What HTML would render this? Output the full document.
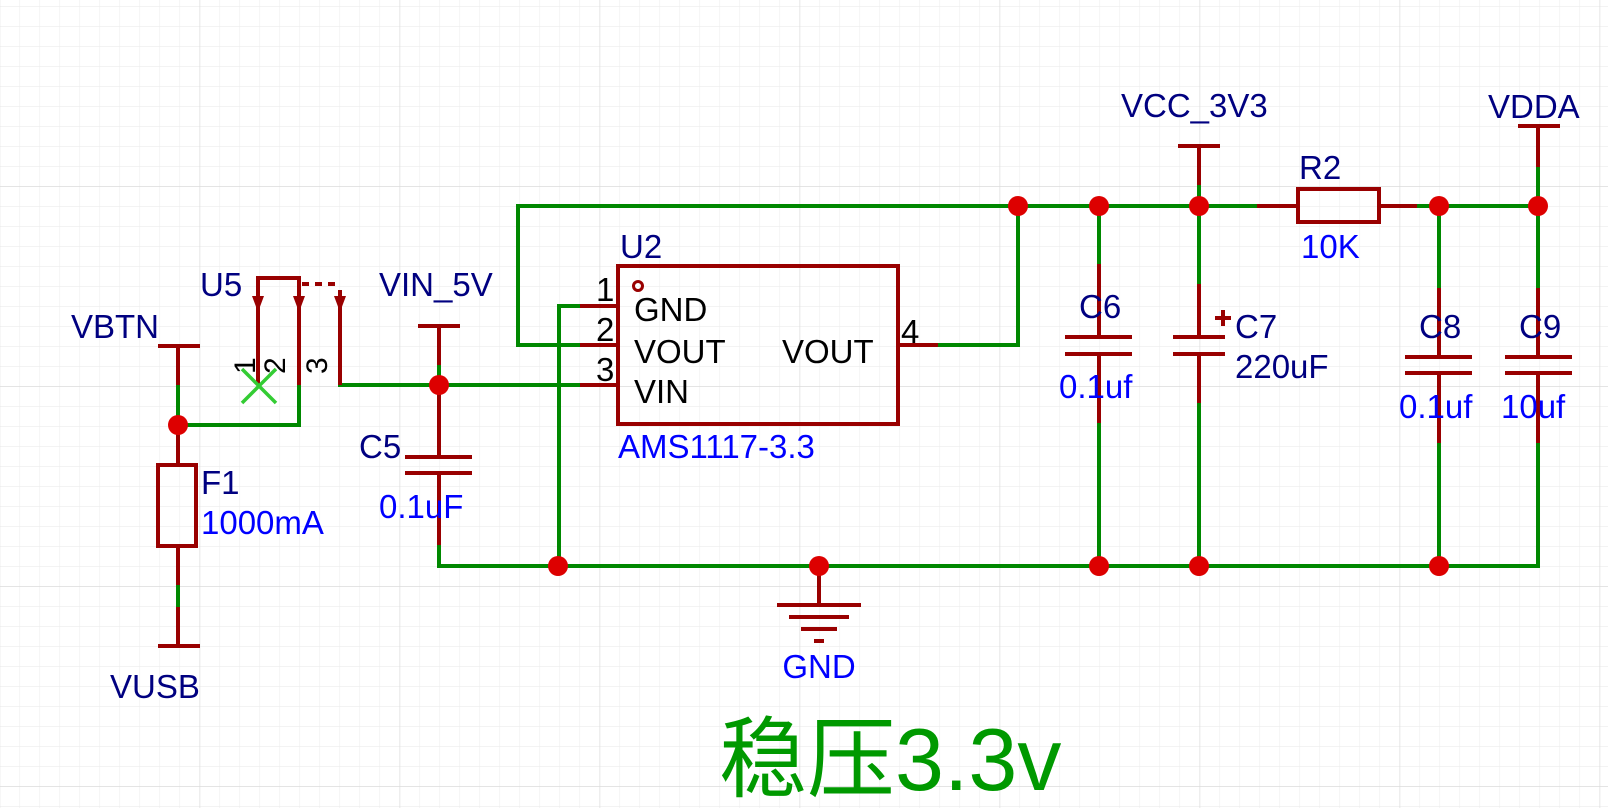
<!DOCTYPE html>
<html><head><meta charset="utf-8"><style>
html,body{margin:0;padding:0;background:#fff;}
svg{display:block;}
text{font-family:"Liberation Sans",sans-serif;}
</style></head><body>
<svg width="1608" height="808" viewBox="0 0 1608 808" xmlns="http://www.w3.org/2000/svg">
<defs>
<pattern id="g" width="20" height="20" patternUnits="userSpaceOnUse" x="-0.5" y="6">
<path d="M0 0H20M0 0V20" stroke="#ececec" stroke-width="1.2" fill="none"/>
</pattern>
<pattern id="G" width="200" height="200" patternUnits="userSpaceOnUse" x="-0.5" y="186">
<path d="M0 0H200M0 0V200" stroke="#dcdcdc" stroke-width="1.4" fill="none"/>
</pattern>
</defs>
<rect width="1608" height="808" fill="#fff"/>
<rect width="1608" height="808" fill="url(#g)"/>
<rect width="1608" height="808" fill="url(#G)"/>

<g stroke="#008800" stroke-width="4" fill="none" stroke-linecap="square">
<polyline points="580,345 518,345 518,206 1257,206"/>
<line x1="1417" y1="206" x2="1538" y2="206"/>
<polyline points="938,345 1018,345 1018,206"/>
<polyline points="439,545 439,566 1538,566 1538,443"/>
<polyline points="580,306 559,306 559,566"/>
<line x1="340" y1="385" x2="580" y2="385"/>
<polyline points="299,385 299,425 178,425 178,385"/>
<line x1="178" y1="585" x2="178" y2="607"/>
<line x1="439" y1="365" x2="439" y2="385"/>
<line x1="1099" y1="206" x2="1099" y2="264"/>
<line x1="1099" y1="423" x2="1099" y2="566"/>
<line x1="1199" y1="185" x2="1199" y2="284"/>
<line x1="1199" y1="403" x2="1199" y2="566"/>
<line x1="1439" y1="206" x2="1439" y2="288"/>
<line x1="1439" y1="443" x2="1439" y2="566"/>
<line x1="1538" y1="167" x2="1538" y2="288"/>
</g>

<g stroke="#990000" stroke-width="4" fill="none">
<line x1="158" y1="346" x2="200" y2="346"/>
<line x1="178" y1="346" x2="178" y2="385"/>
<line x1="178" y1="425" x2="178" y2="465"/>
<rect x="158" y="465" width="38" height="81"/>
<line x1="178" y1="546" x2="178" y2="585"/>
<line x1="178" y1="607" x2="178" y2="646"/>
<line x1="158" y1="646" x2="200" y2="646"/>
<polyline points="258,385 258,278 299,278 299,385"/>
<line x1="340" y1="290" x2="340" y2="385"/>
<line x1="302" y1="284" x2="340" y2="284" stroke-dasharray="7,6"/>
<line x1="418" y1="326" x2="460" y2="326"/>
<line x1="439" y1="326" x2="439" y2="365"/>
<line x1="439" y1="385" x2="439" y2="457"/>
<line x1="405" y1="457" x2="472" y2="457"/>
<line x1="405" y1="473" x2="472" y2="473"/>
<line x1="439" y1="473" x2="439" y2="545"/>
<rect x="618" y="266" width="280" height="158"/>
<line x1="580" y1="306" x2="618" y2="306"/>
<line x1="580" y1="345" x2="618" y2="345"/>
<line x1="580" y1="385" x2="618" y2="385"/>
<line x1="898" y1="345" x2="938" y2="345"/>
<circle cx="638" cy="286" r="4.5" stroke-width="3"/>
<line x1="1099" y1="264" x2="1099" y2="337"/>
<line x1="1065" y1="337" x2="1132" y2="337"/>
<line x1="1065" y1="354" x2="1132" y2="354"/>
<line x1="1099" y1="354" x2="1099" y2="423"/>
<line x1="1178" y1="146" x2="1220" y2="146"/>
<line x1="1199" y1="146" x2="1199" y2="185"/>
<line x1="1199" y1="284" x2="1199" y2="337"/>
<line x1="1173" y1="337" x2="1225" y2="337"/>
<line x1="1173" y1="354" x2="1225" y2="354"/>
<line x1="1199" y1="354" x2="1199" y2="403"/>
<line x1="1215" y1="318" x2="1231" y2="318"/>
<line x1="1223" y1="310" x2="1223" y2="326"/>
<line x1="1257" y1="206" x2="1298" y2="206"/>
<rect x="1298" y="189" width="81" height="33"/>
<line x1="1379" y1="206" x2="1417" y2="206"/>
<line x1="1439" y1="288" x2="1439" y2="357"/>
<line x1="1405" y1="357" x2="1472" y2="357"/>
<line x1="1405" y1="373" x2="1472" y2="373"/>
<line x1="1439" y1="373" x2="1439" y2="443"/>
<line x1="1518" y1="126" x2="1560" y2="126"/>
<line x1="1538" y1="126" x2="1538" y2="167"/>
<line x1="1538" y1="288" x2="1538" y2="357"/>
<line x1="1505" y1="357" x2="1572" y2="357"/>
<line x1="1505" y1="373" x2="1572" y2="373"/>
<line x1="1538" y1="373" x2="1538" y2="443"/>
<line x1="819" y1="566" x2="819" y2="605"/>
<line x1="777" y1="605" x2="861" y2="605"/>
<line x1="789" y1="617" x2="849" y2="617"/>
<line x1="801" y1="629" x2="837" y2="629"/>
<line x1="814" y1="641" x2="824" y2="641"/>
</g>
<g fill="#990000">
<polygon points="252,296 264,296 258,312"/>
<polygon points="293,296 305,296 299,312"/>
<polygon points="334,296 346,296 340,312"/>
</g>
<g stroke="#33cc33" stroke-width="3.5">
<line x1="242" y1="369" x2="276" y2="403"/>
<line x1="276" y1="369" x2="242" y2="403"/>
</g>

<g fill="#dd0000">
<circle cx="178" cy="425" r="10"/>
<circle cx="439" cy="385" r="10"/>
<circle cx="1018" cy="206" r="10"/>
<circle cx="1099" cy="206" r="10"/>
<circle cx="1199" cy="206" r="10"/>
<circle cx="1439" cy="206" r="10"/>
<circle cx="1538" cy="206" r="10"/>
<circle cx="558" cy="566" r="10"/>
<circle cx="819" cy="566" r="10"/>
<circle cx="1099" cy="566" r="10"/>
<circle cx="1199" cy="566" r="10"/>
<circle cx="1439" cy="566" r="10"/>
</g>

<g font-size="33" fill="#000080">
<text x="71" y="338">VBTN</text>
<text x="110" y="698">VUSB</text>
<text x="201" y="494">F1</text>
<text x="200" y="296">U5</text>
<text x="379" y="296">VIN_5V</text>
<text x="359" y="458">C5</text>
<text x="620" y="258">U2</text>
<text x="1121" y="117">VCC_3V3</text>
<text x="1488" y="118">VDDA</text>
<text x="1299" y="179">R2</text>
<text x="1079" y="318">C6</text>
<text x="1235" y="338">C7</text>
<text x="1235" y="378">220uF</text>
<text x="1419" y="338">C8</text>
<text x="1519" y="338">C9</text>
</g>
<g font-size="33" fill="#0000ff">
<text x="201" y="534">1000mA</text>
<text x="379" y="518">0.1uF</text>
<text x="618" y="458">AMS1117-3.3</text>
<text x="1301" y="258">10K</text>
<text x="1059" y="398">0.1uf</text>
<text x="1399" y="418">0.1uf</text>
<text x="1501" y="418">10uf</text>
<text x="819" y="678" text-anchor="middle">GND</text>
</g>
<g font-size="33" fill="#000">
<text x="634" y="321">GND</text>
<text x="634" y="363">VOUT</text>
<text x="634" y="403">VIN</text>
<text x="782" y="363">VOUT</text>
<text x="901" y="343">4</text>
<text x="596" y="301">1</text>
<text x="596" y="341">2</text>
<text x="596" y="381">3</text>
<g font-size="30">
<text transform="translate(255,374) rotate(-90)">1</text>
<text transform="translate(285,374) rotate(-90)">2</text>
<text transform="translate(327,374) rotate(-90)">3</text>
</g>
</g>
<text x="719" y="790" font-size="88" fill="#009900" font-family="'Liberation Sans','Noto Sans CJK SC',sans-serif">稳压3.3v</text>
</svg>
</body></html>
